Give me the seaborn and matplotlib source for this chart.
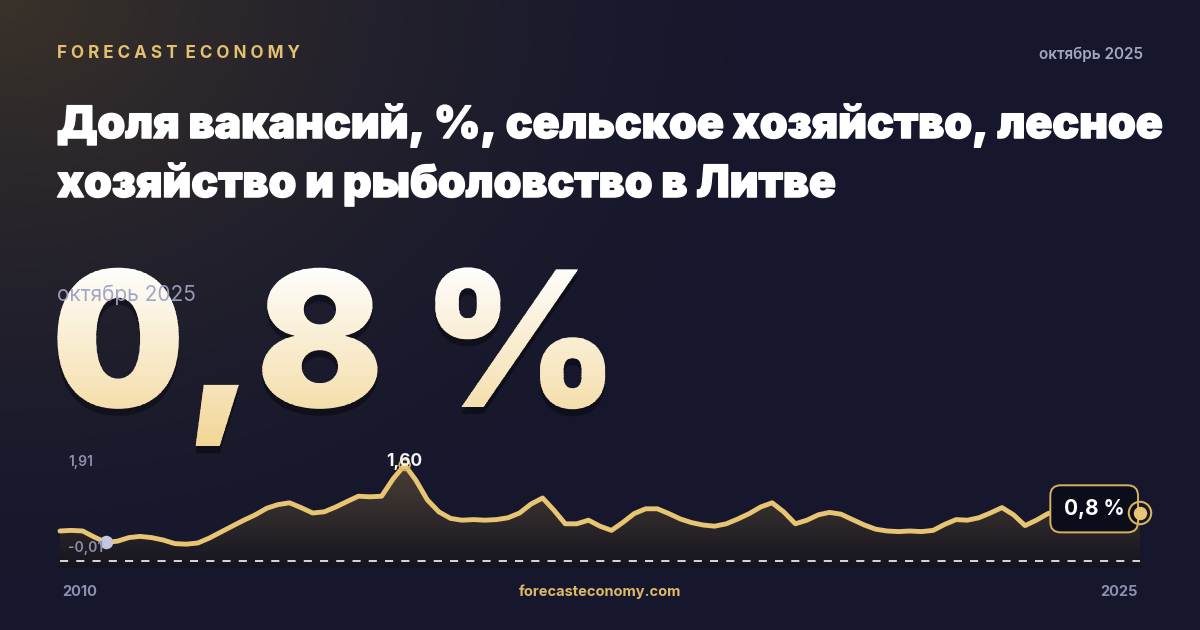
import numpy as np
import pandas as pd
import matplotlib
matplotlib.use('Agg')
import matplotlib.pyplot as plt
import matplotlib.dates as mdates
from matplotlib.colors import to_rgb
from matplotlib.transforms import Bbox
from matplotlib.patheffects import AbstractPathEffect, SimplePatchShadow, withStroke
import seaborn as sns

# vacancy rate, % (2-month steps from jan 2010)
values = [0.50, 0.51, 0.50, 0.40, 0.31, 0.33, 0.39, 0.41, 0.39, 0.35,
          0.29, 0.28, 0.30, 0.38, 0.48, 0.58, 0.68, 0.77, 0.88, 0.94,
          0.97, 0.89, 0.80, 0.82, 0.90, 0.99, 1.08, 1.07, 1.08, 1.37,
          1.60, 1.35, 1.02, 0.82, 0.71, 0.68, 0.69, 0.68, 0.69, 0.72,
          0.80, 0.95, 1.05, 0.85, 0.62, 0.62, 0.68, 0.58, 0.51, 0.64,
          0.79, 0.87, 0.87, 0.79, 0.70, 0.64, 0.60, 0.58, 0.62, 0.70,
          0.79, 0.90, 0.97, 0.82, 0.62, 0.68, 0.77, 0.81, 0.78, 0.69,
          0.60, 0.53, 0.50, 0.49, 0.50, 0.49, 0.51, 0.61, 0.69, 0.68,
          0.72, 0.80, 0.89, 0.77, 0.59, 0.68, 0.79, 0.84, 0.85, 0.83,
          0.81, 0.80, 0.79, 0.79, 0.80]
dates = pd.date_range('2010-01-01', periods=len(values), freq='2MS')

brand = 'F O R E C A S T  E C O N O M Y'
period = 'октябрь 2025'
title_lines = ['Доля вакансий, %, сельское хозяйство, лесное',
               'хозяйство и рыболовство в Литве']
headline = '0,8 %'
y_max_label = '1,91'
y_min_label = '-0,01'
peak_label = '1,60'
last_label = '0,8 %'
x_labels = ['2010', '2025']
site = 'forecasteconomy.com'

GOLD = '#e8c572'
GREY = '#8d8fae'


class VGradient(AbstractPathEffect):
    '''fills the text path with a vertical colour gradient (in thin bands)'''

    def __init__(self, c_top, c_bot, n=80):
        super().__init__()
        self.c_top = np.array(to_rgb(c_top))
        self.c_bot = np.array(to_rgb(c_bot))
        self.n = n

    def draw_path(self, renderer, gc, tpath, affine, rgbFace=None):
        ext = affine.transform_path(tpath).get_extents()
        hgt = ext.y1 - ext.y0
        for i in range(self.n):
            y0 = ext.y0 + hgt * i / self.n
            y1 = ext.y0 + hgt * (i + 1) / self.n + 0.6
            t = i / (self.n - 1)
            col = self.c_bot + (self.c_top - self.c_bot) * t
            gc0 = renderer.new_gc()
            gc0.copy_properties(gc)
            gc0.set_clip_rectangle(Bbox([[ext.x0 - 2, y0], [ext.x1 + 2, y1]]))
            renderer.draw_path(gc0, tpath, affine, tuple(col))
            gc0.restore()


sns.set_theme(style='dark')
plt.rcParams['font.family'] = ['Inter', 'DejaVu Sans']

W, H = 1200, 630
fig = plt.figure(figsize=(12, 6.3), dpi=100)

def Y(y):
    return H - y

# background with warm glow in the top-left corner
bg = fig.add_axes([0, 0, 1, 1], zorder=0)
yy, xx = np.mgrid[0:H, 0:W]
d = np.sqrt(xx ** 2 + (yy * 1.3) ** 2)
w = np.clip(1 - d / 850, 0, 1) ** 1.7
c0 = np.array(to_rgb('#3a3229'))
c1 = np.array(to_rgb('#16172d'))
bg.imshow(c1 + (c0 - c1) * w[..., None], extent=(0, W, 0, H), origin='upper', aspect='auto')
bg.set_xlim(0, W)
bg.set_ylim(0, H)
bg.axis('off')

# overlay for texts
ov = fig.add_axes([0, 0, 1, 1], zorder=3)
ov.set_facecolor('none')
ov.set_xlim(0, W)
ov.set_ylim(0, H)
ov.axis('off')

ov.text(57, Y(53), brand, color='#e3c170', fontsize=12.3, weight='bold', va='center')
ov.text(1143, Y(54), period, color='#a4a6c2', fontsize=11, weight='semibold', va='center', ha='right')
thick = [withStroke(linewidth=1.1, foreground='white')]
ov.text(57, Y(138), title_lines[0], color='white', fontsize=32, weight='black', va='baseline', path_effects=thick)
ov.text(57, Y(197), title_lines[1], color='white', fontsize=32, weight='black', va='baseline', path_effects=thick)

# big number, white -> gold gradient
ov.text(51, Y(407), headline, color='#f8ecd0', fontsize=136, weight='black', va='baseline', zorder=2,
        path_effects=[SimplePatchShadow(offset=(0, -5), shadow_rgbFace='black', alpha=0.35),
                      VGradient('#fefdfb', '#f2d697')])
ov.text(57, Y(295), period, color='#9ea1c6', fontsize=15, va='center', zorder=5, alpha=0.95)

# sparkline chart
y_lo, y_hi = -0.117, 2.017
ax = fig.add_axes([60 / W, (H - 568) / H, 1080 / W, 128 / H], zorder=2)
ax.set_facecolor('none')
sns.lineplot(x=dates, y=values, ax=ax, color=GOLD, linewidth=3.5, zorder=4)
for ln in ax.lines:
    ln.set_clip_on(False)
    ln.set_solid_capstyle('round')
    ln.set_solid_joinstyle('round')
poly = ax.fill_between(dates, values, y_lo, color='none', lw=0)
xn = mdates.date2num(dates)
fg = np.linspace(0, 1, 256)[:, None]
ftop = np.array(to_rgb('#4d4137'))
fbot = np.array(to_rgb('#15141f'))
fgrad = fbot + (ftop - fbot) * fg[..., None]
fim = ax.imshow(fgrad, extent=(xn[0], xn[-1], y_lo, 1.65), origin='lower', aspect='auto', zorder=1)
fim.set_clip_path(poly.get_paths()[0], transform=ax.transData)
ax.axhline(0, color='white', lw=1.3, ls=(0, (4.5, 4.5)), zorder=3, alpha=0.9, clip_on=False)

imin = 4
imax = int(np.argmax(values))
ax.scatter([dates[imin]], [values[imin]], s=75, color='#c3c6de', zorder=5, clip_on=False)
ax.scatter([dates[imax]], [values[imax]], s=60, facecolors='none', edgecolors='#d9b45a', linewidths=1.2, zorder=5)
ax.annotate(peak_label, xy=(dates[imax], values[imax]), xytext=(0, 2.5), textcoords='offset points',
            ha='center', va='center', color='#f4f4f6', fontsize=12.5, weight='bold', zorder=6)
ax.annotate(last_label, xy=(dates[-1], values[-1]), xytext=(-33, 3), textcoords='offset points',
            ha='center', va='center', color='white', fontsize=15, weight='bold', zorder=6,
            bbox=dict(boxstyle='round,pad=0.65,rounding_size=0.5', fc='#0c0d1a', ec='#d6b25c', lw=1.4))
ax.scatter([dates[-1]], [values[-1]], s=260, facecolors='none', edgecolors='#d6b25c', linewidths=1.5, zorder=7, clip_on=False)
ax.scatter([dates[-1]], [values[-1]], s=75, color=GOLD, zorder=8, clip_on=False)
ax.set_xlim(dates[0], dates[-1])
ax.set_ylim(y_lo, y_hi)
ax.axis('off')

ov.text(68, Y(462), y_max_label, color=GREY, fontsize=10, weight='semibold', va='center', zorder=6)
ov.text(68, Y(548), y_min_label, color=GREY, fontsize=10, weight='semibold', va='center', zorder=6)
ov.text(62, Y(592), x_labels[0], color=GREY, fontsize=10.5, weight='bold', va='center')
ov.text(1138, Y(592), x_labels[1], color=GREY, fontsize=10.5, weight='bold', va='center', ha='right')
ov.text(600, Y(592), site, color='#dcb965', fontsize=10.5, weight='bold', va='center', ha='center')

fig.savefig('out.png', dpi=100)
